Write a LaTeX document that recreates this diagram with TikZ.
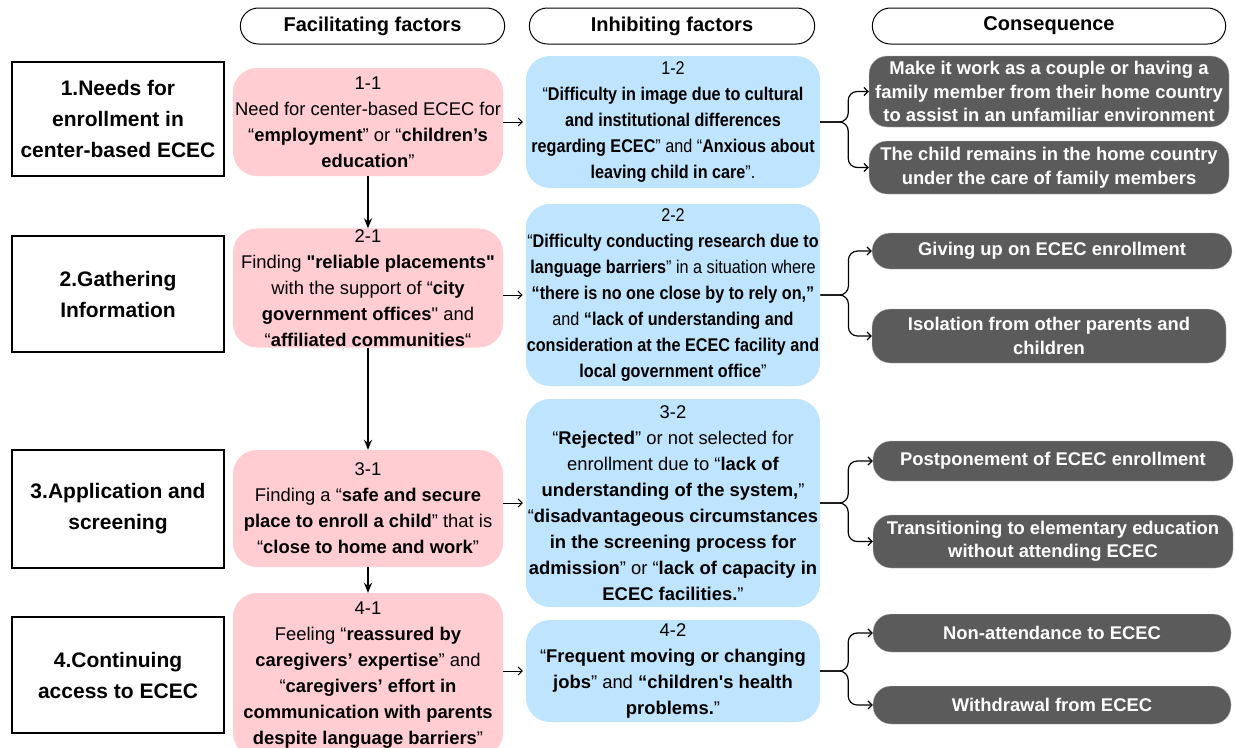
\documentclass[tikz,border=0pt]{standalone}
\usepackage{fontspec}
\setmainfont{Liberation Sans}
\newfontfamily\narrowsf[FakeStretch=0.88]{Liberation Sans}
\usetikzlibrary{positioning, arrows.meta, shapes.misc}
\definecolor{pinkbox}{RGB}{255,205,210}
\definecolor{bluebox}{RGB}{191,228,253}
\definecolor{greybox}{RGB}{91,91,91}
\newcommand{\boxfont}{\fontsize{18.4}{26}\selectfont}
\newcommand{\sq}{\textquotedbl}
\tikzset{
    hdr/.style={rounded rectangle, draw, line width=1pt, minimum height=36pt,
      font=\fontsize{20}{24}\selectfont\bfseries},
    stage/.style={rectangle, draw, line width=1.4pt, minimum width=212pt,
      align=center, font=\fontsize{21}{31}\selectfont\bfseries},
    facil/.style={rectangle, rounded corners=24pt, fill=pinkbox, minimum width=270pt,
      inner sep=1pt, align=center, font=\boxfont},
    inhib/.style={rectangle, rounded corners=24pt, fill=bluebox, minimum width=294pt,
      inner sep=1pt, align=center, font=\boxfont},
    conseq/.style={rectangle, rounded corners=18pt, fill=greybox, draw=black!25,
      text=white, minimum width=360pt, inner sep=1pt, align=center,
      font=\fontsize{18.4}{23.5}\selectfont\bfseries},
}

\begin{document}
\begin{tikzpicture}[x=1pt, y=-1pt]
    \tikzset{
      flow/.style={-{Stealth[length=10pt, width=8pt]}, line width=1.5pt},
      link/.style={-{Straight Barb[length=4pt, width=8pt]}, line width=1pt, shorten >=3pt},
      branch/.style={-{Straight Barb[length=4pt, width=8pt]}, line width=1.2pt, rounded corners=9pt}
    }
    \useasboundingbox (0,0) rectangle (1236,747);

    % column heads
    \node[hdr, minimum width=271pt] (fac) at (372.5,26) {Facilitating factors};
    \node[hdr, minimum width=292pt] (inh) at (672,26) {Inhibiting factors};
    \node[hdr, minimum width=360pt] (con) at (1049,26) {Consequence};

    % stages
    \node[stage, minimum height=114pt] (s1) at (118,119) {1.Needs for\\enrollment in\\center-based ECEC};
    \node[stage, minimum height=116pt] (s2) at (118,294) {2.Gathering\\Information};
    \node[stage, minimum height=118pt] (s3) at (118,509) {3.Application and\\screening};
    \node[stage, minimum height=116pt] (s4) at (118,675) {4.Continuing\\access to ECEC};

    % facilitating factors
    \node[facil, minimum height=108pt] (f1) at (368,122)
      {1-1\\Need for center-based ECEC for\\“\textbf{employment}” or “\textbf{children’s}\\\textbf{education}”};
    \node[facil, minimum height=116pt] (f2) at (368,288)
      {2-1\\Finding \textbf{\sq reliable placements\sq}\\with the support of “\textbf{city}\\\textbf{government offices}\sq{} and\\“\textbf{affiliated communities}“};
    \node[facil, minimum height=117pt] (f3) at (368,508.5)
      {3-1\\Finding a “\textbf{safe and secure}\\\textbf{place to enroll a child}” that is\\“\textbf{close to home and work}”};
    \node[facil, minimum height=164pt] (f4) at (368,675)
      {4-1\\Feeling “\textbf{reassured by}\\\textbf{caregivers’ expertise}” and\\“\textbf{caregivers’ effort in}\\\textbf{communication with parents}\\\textbf{despite language barriers}”};

    % inhibiting factors
    \node[inhib, minimum height=132pt, font=\narrowsf\boxfont] (i1) at (673,122)
      {1-2\\“\textbf{Difficulty in image due to cultural}\\\textbf{and institutional differences}\\\textbf{regarding ECEC}” and “\textbf{Anxious about}\\\textbf{leaving child in care}”.};
    \node[inhib, minimum height=182pt, font=\narrowsf\boxfont] (i2) at (673,295)
      {2-2\\“\textbf{Difficulty conducting research due to}\\\textbf{language barriers}” in a situation where\\\textbf{“there is no one close by to rely on,”}\\and \textbf{“lack of understanding and}\\\textbf{consideration at the ECEC facility and}\\\textbf{local government office}”};
    \node[inhib, minimum height=208pt] (i3) at (673,503)
      {3-2\\“\textbf{Rejected}” or not selected for\\enrollment due to “\textbf{lack of}\\\textbf{understanding of the system,}”\\“\textbf{disadvantageous circumstances}\\\textbf{in the screening process for}\\\textbf{admission}” or “\textbf{lack of capacity in}\\\textbf{ECEC facilities.}”};
    \node[inhib, minimum height=102pt] (i4) at (673,671)
      {4-2\\“\textbf{Frequent moving or changing}\\\textbf{jobs}” and \textbf{“children\textquotesingle s health}\\\textbf{problems.}”};

    % consequences
    \node[conseq, minimum height=71pt] (c1a) at (1049,91.5)
      {Make it work as a couple or having a\\family member from their home country\\to assist in an unfamiliar environment};
    \node[conseq, minimum height=53pt] (c1b) at (1049,167.5)
      {The child remains in the home country\\under the care of family members};
    \node[conseq, minimum height=36pt] (c2a) at (1052,251) {Giving up on ECEC enrollment};
    \node[conseq, minimum height=54pt, minimum width=354pt] (c2b) at (1049,336)
      {Isolation from other parents and\\children};
    \node[conseq, minimum height=40pt] (c3a) at (1053,461) {Postponement of ECEC enrollment};
    \node[conseq, minimum height=53pt] (c3b) at (1053,541.5)
      {Transitioning to elementary education\\without attending ECEC};
    \node[conseq, minimum height=38pt, minimum width=358pt] (c4a) at (1052,633) {Non-attendance to ECEC};
    \node[conseq, minimum height=38pt, minimum width=358pt] (c4b) at (1052,705) {Withdrawal from ECEC};

    % flow down the facilitating column
    \draw[flow] (f1) -- (f2);
    \draw[flow] (f2) -- (f3);
    \draw[flow] (f3) -- (f4);

    % facilitating to inhibiting
    \draw[link] (f1.east |- i1.west) -- (i1.west);
    \draw[link] (f2.east |- i2.west) -- (i2.west);
    \draw[link] (f3.east |- i3.west) -- (i3.west);
    \draw[link] (f4.east |- i4.west) -- (i4.west);

    % inhibiting to consequence
    \draw[branch] (i1.east) -- ++(28,0) |- (c1a.west);
    \draw[branch] (i1.east) -- ++(28,0) |- (c1b.west);
    \draw[branch] (i2.east) -- ++(28,0) |- (c2a.west);
    \draw[branch] (i2.east) -- ++(28,0) |- (c2b.west);
    \draw[branch] (i3.east) -- ++(28,0) |- (c3a.west);
    \draw[branch] (i3.east) -- ++(28,0) |- (c3b.west);
    \draw[branch] (i4.east) -- ++(28,0) |- (c4a.west);
    \draw[branch] (i4.east) -- ++(28,0) |- (c4b.west);
\end{tikzpicture}
\end{document}
